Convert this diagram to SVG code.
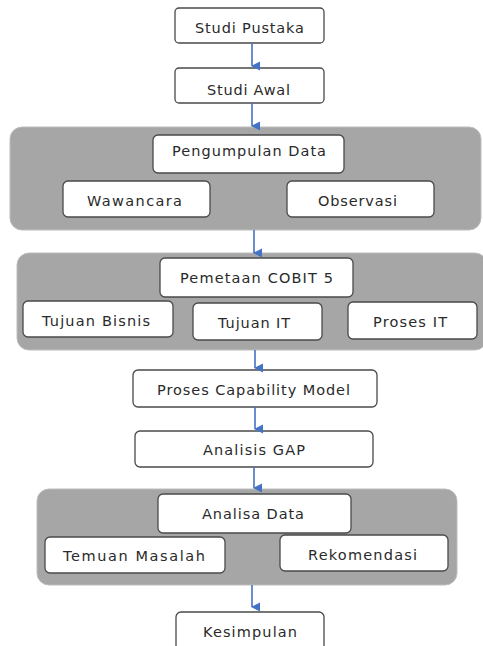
<svg xmlns="http://www.w3.org/2000/svg" width="483" height="646" viewBox="0 0 483 646">
<defs>
<marker id="ah" markerWidth="10" markerHeight="10" refX="5" refY="9" orient="auto" markerUnits="userSpaceOnUse" viewBox="0 0 10 10">
<path d="M0.5,1 L9.5,1 L5,10 Z" fill="#4472c4"/>
</marker>
<style>
.panel{fill:#a6a6a6;stroke:#bdbdbd;stroke-width:1}
.box{fill:#ffffff;stroke:#4a4a4a;stroke-width:1.3}
.t{font-family:"DejaVu Sans",Verdana,sans-serif;font-size:14.5px;fill:#2a2a2a;text-anchor:middle}
.c{stroke:#4472c4;stroke-width:1.6;fill:none}
</style>
</defs>
<rect width="483" height="646" fill="#ffffff"/>
<g id="panel1"><rect class="panel" x="10" y="127" width="471" height="103" rx="12"/></g>
<g id="panel2"><rect class="panel" x="17" y="253" width="470" height="97" rx="12"/></g>
<g id="panel3"><rect class="panel" x="37" y="489" width="420" height="96" rx="12"/></g>
<g id="studi-pustaka"><rect class="box" x="175" y="8" width="149" height="35" rx="4"/><text class="t" x="249.5" y="33" textLength="109" lengthAdjust="spacing">Studi Pustaka</text></g>
<g id="studi-awal"><rect class="box" x="175" y="68" width="149" height="35" rx="4"/><text class="t" x="248.5" y="95" textLength="83" lengthAdjust="spacing">Studi Awal</text></g>
<g id="pengumpulan-data"><rect class="box" x="153" y="135" width="191" height="38" rx="5"/><text class="t" x="249" y="156" textLength="154" lengthAdjust="spacing">Pengumpulan Data</text></g>
<g id="wawancara"><rect class="box" x="63" y="181" width="147" height="36" rx="5"/><text class="t" x="134.5" y="206" textLength="95" lengthAdjust="spacing">Wawancara</text></g>
<g id="observasi"><rect class="box" x="287" y="181" width="147" height="36" rx="5"/><text class="t" x="357.5" y="206" textLength="79" lengthAdjust="spacing">Observasi</text></g>
<g id="pemetaan-cobit"><rect class="box" x="160" y="258" width="193" height="39" rx="5"/><text class="t" x="256.5" y="283" textLength="153" lengthAdjust="spacing">Pemetaan COBIT 5</text></g>
<g id="tujuan-bisnis"><rect class="box" x="23" y="301" width="150" height="36" rx="5"/><text class="t" x="96" y="326" textLength="108" lengthAdjust="spacing">Tujuan Bisnis</text></g>
<g id="tujuan-it"><rect class="box" x="193" y="303" width="129" height="37" rx="5"/><text class="t" x="254" y="328" textLength="72" lengthAdjust="spacing">Tujuan IT</text></g>
<g id="proses-it"><rect class="box" x="348" y="302" width="129" height="37" rx="5"/><text class="t" x="410" y="327" textLength="74" lengthAdjust="spacing">Proses IT</text></g>
<g id="proses-capability"><rect class="box" x="133" y="370" width="244" height="37" rx="5"/><text class="t" x="253.5" y="395" textLength="193" lengthAdjust="spacing">Proses Capability Model</text></g>
<g id="analisis-gap"><rect class="box" x="135" y="431" width="238" height="36" rx="5"/><text class="t" x="254" y="455" textLength="102" lengthAdjust="spacing">Analisis GAP</text></g>
<g id="analisa-data"><rect class="box" x="158" y="494" width="193" height="39" rx="5"/><text class="t" x="253" y="519" textLength="102" lengthAdjust="spacing">Analisa Data</text></g>
<g id="temuan-masalah"><rect class="box" x="45" y="537" width="180" height="36" rx="5"/><text class="t" x="134" y="561" textLength="142" lengthAdjust="spacing">Temuan Masalah</text></g>
<g id="rekomendasi"><rect class="box" x="280" y="535" width="168" height="36" rx="5"/><text class="t" x="362.5" y="560" textLength="109" lengthAdjust="spacing">Rekomendasi</text></g>
<g id="kesimpulan"><rect class="box" x="176" y="612" width="148" height="40" rx="5"/><text class="t" x="250" y="637" textLength="94" lengthAdjust="spacing">Kesimpulan</text></g>
<g id="connectors">
<line class="c" x1="252" y1="43" x2="252" y2="66" marker-end="url(#ah)"/>
<line class="c" x1="252" y1="103" x2="252" y2="126" marker-end="url(#ah)"/>
<line class="c" x1="254" y1="230" x2="254" y2="253" marker-end="url(#ah)"/>
<line class="c" x1="255" y1="350" x2="255" y2="368" marker-end="url(#ah)"/>
<line class="c" x1="255" y1="407" x2="255" y2="429" marker-end="url(#ah)"/>
<line class="c" x1="254" y1="467" x2="254" y2="488" marker-end="url(#ah)"/>
<line class="c" x1="252" y1="585" x2="252" y2="607" marker-end="url(#ah)"/>
</g>
</svg>
